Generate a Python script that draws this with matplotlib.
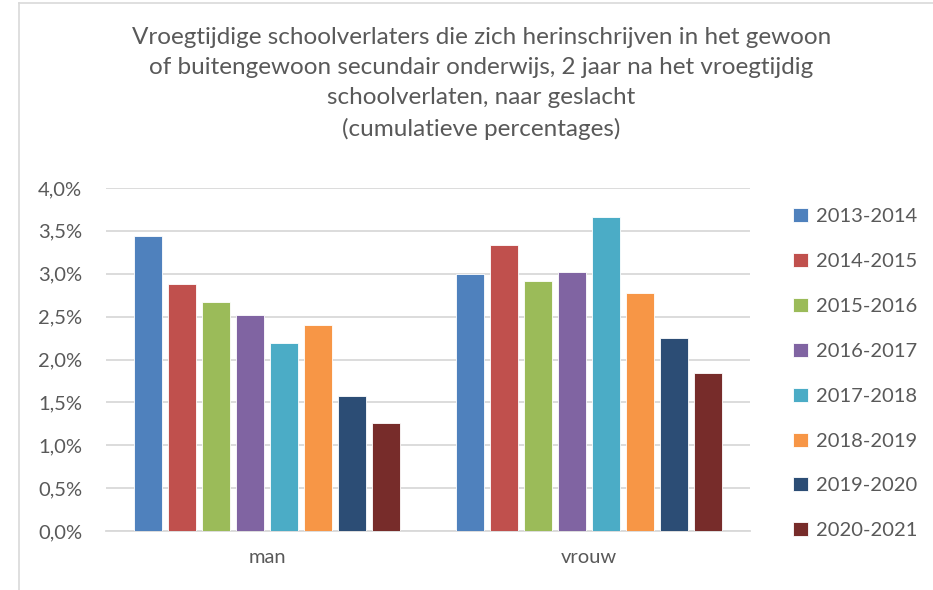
import matplotlib.pyplot as plt
import numpy as np
from matplotlib.ticker import FuncFormatter
from matplotlib.lines import Line2D

plt.rcParams['font.family'] = ['Lato', 'DejaVu Sans']

# Data
categories = ['man', 'vrouw']
years = ['2013-2014', '2014-2015', '2015-2016', '2016-2017',
         '2017-2018', '2018-2019', '2019-2020', '2020-2021']
man = [3.44, 2.88, 2.67, 2.52, 2.19, 2.40, 1.58, 1.26]
vrouw = [3.00, 3.33, 2.92, 3.02, 3.66, 2.78, 2.25, 1.84]
colors = ['#4F81BD', '#C0504D', '#9BBB59', '#8064A2',
          '#4BACC6', '#F79646', '#2C4D75', '#772C2A']

title = ('Vroegtijdige schoolverlaters die zich herinschrijven in het gewoon\n'
         'of buitengewoon secundair onderwijs, 2 jaar na het vroegtijdig\n'
         'schoolverlaten, naar geslacht\n'
         '(cumulatieve percentages)')

text_col = '#595959'
grid_col = '#D9D9D9'

fig = plt.figure(figsize=(9.33, 5.9), dpi=100)
ax = fig.add_axes([106 / 933, 59 / 590, 644 / 933, 343 / 590])

x = np.arange(len(categories))
step = 0.1056
width = 0.084
for i, yr in enumerate(years):
    vals = [man[i], vrouw[i]]
    ax.bar(x + (i - 3.5) * step, vals, width, color=colors[i],
           edgecolor='white', linewidth=0.6, label=yr, zorder=3)

ax.set_xlim(-0.5, 1.5)
ax.set_ylim(0, 4.0)
ax.set_yticks(np.arange(0, 4.01, 0.5))
ax.yaxis.set_major_formatter(FuncFormatter(lambda v, p: f'{v:.1f}%'.replace('.', ',')))
ax.set_xticks(x)
ax.set_xticklabels(categories)
ax.grid(axis='y', color=grid_col, linewidth=1.3, zorder=0)
for s in ['top', 'right', 'left']:
    ax.spines[s].set_visible(False)
ax.spines['bottom'].set_color(grid_col)
ax.spines['bottom'].set_linewidth(1.3)
ax.tick_params(axis='both', length=0, colors=text_col, labelsize=14.5)
ax.tick_params(axis='y', pad=17)
ax.tick_params(axis='x', pad=13)

fig.text(0.516, 0.955, title, ha='center', va='top', fontsize=17.5,
         color=text_col, linespacing=1.55)

leg = ax.legend(loc='upper left', bbox_to_anchor=(1.055, 0.965), frameon=False,
                fontsize=14.5, labelspacing=1.38, handlelength=0.7,
                handleheight=0.7, handletextpad=0.4, borderaxespad=0)
for t in leg.get_texts():
    t.set_color(text_col)

# chart border (left and top)
fig.add_artist(Line2D([19 / 933, 19 / 933], [0, 1 - 3 / 590], color=grid_col, linewidth=1.2))
fig.add_artist(Line2D([19 / 933, 1], [1 - 3 / 590, 1 - 3 / 590], color=grid_col, linewidth=1.2))

fig.savefig('out.png', dpi=100)
